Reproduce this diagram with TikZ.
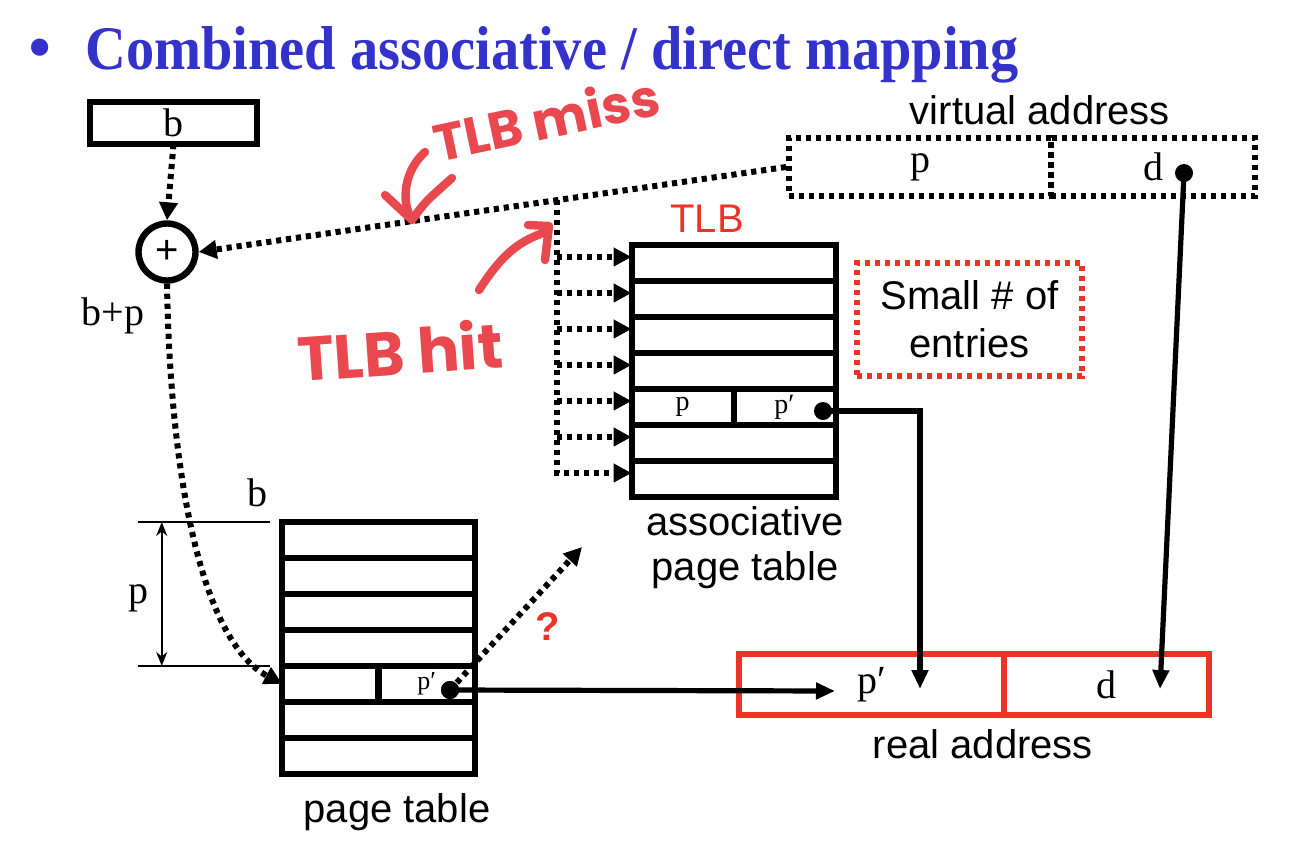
\documentclass[tikz,border=0pt]{standalone}
\usepackage{fontspec}
\setsansfont{Liberation Sans}
\newfontfamily\serf{Liberation Serif}
\newfontfamily\titlef{Liberation Serif}[FakeStretch=0.91]
\newfontfamily\hand{Poppins}
\usetikzlibrary{arrows.meta,calc}
\definecolor{ttlblue}{RGB}{51,51,204}
\definecolor{redbox}{RGB}{236,52,38}
\definecolor{handred}{RGB}{232,72,78}
\newcommand{\fsz}[1]{\fontsize{#1}{#1}\selectfont}
\begin{document}
\begin{tikzpicture}[x=0.5pt,y=-0.5pt,
  cell/.style={draw,line width=3pt,inner sep=0pt,outer sep=0pt,minimum height=18pt},
  dotln/.style={line width=3pt,dash pattern=on 2.6pt off 2.4pt},
  dotarr/.style={dotln,-{Triangle[length=9pt,width=9pt]}},
  solarr/.style={line width=2.6pt,-{Triangle[length=9.5pt,width=8pt]}},
  blob/.style={circle,fill,inner sep=0pt,minimum size=9pt},
  sf/.style={font=\sffamily\fsz{20}},
  sr/.style={font=\serf\fsz{20}},
  hnd/.style={text=handred,font=\hand\bfseries\fsz{26},inner sep=0pt},
  hstroke/.style={draw=handred,line width=4.2pt,line cap=round,line join=round},
]
\useasboundingbox (0,0) rectangle (1292,852);
\fill[white] (0,0) rectangle (1292,852);

% title
\node[anchor=base west,text=ttlblue,inner sep=0pt] (title) at (85,69) {\titlef\bfseries\fsz{31}Combined associative / direct mapping};
\node[text=ttlblue,inner sep=0pt] (bullet) at (40,55) {\serf\fsz{36}•};

% b box and adder
\node[cell,minimum width=83.5pt,minimum height=21pt,sr] (bbox) at (173.5,123) {b};
\node[circle,draw,line width=3.2pt,minimum size=28.5pt,inner sep=0pt,font=\sffamily\fsz{20}] (plus) at (167,252) {+};
\node[anchor=base,sr] (bp) at (113,325) {b+p};
\draw[dotarr] (bbox.south) -- (plus.north);

% virtual address
\node[draw,dotln,inner sep=0pt,minimum width=131pt,minimum height=29pt,sr] (vp) at (920,167) {p};
\node[draw,dotln,inner sep=0pt,minimum width=102pt,minimum height=29pt,sr] (vd) at (1153,167) {d};
\node[anchor=base,sf] (vlbl) at (1040,124) {virtual address};

% main dotted line
\coordinate (junc) at ($(vp.west)!0.39!(plus.east)$);
\draw[dotarr] (vp.west) -- (plus.east);

% TLB
\node[anchor=base,sf,text=redbox] (tlblbl) at (707,232) {TLB};
\foreach \i/\yy in {1/263,2/299,3/335,4/371,6/443,7/479}
  \node[cell,minimum width=102pt] (tl\i) at (733.5,\yy) {};
\node[cell,minimum width=51pt,font=\serf\fsz{14}] (tl5a) at (682.5,407) {p};
\node[cell,minimum width=51pt,font=\serf\fsz{14}] (tl5b) at (784.5,407) {p′};
\foreach \r in {tl1,tl2,tl3,tl4,tl5a,tl6}
  \draw[dotarr] ($(junc |- \r.west)+(0,3pt)$) -- ($(\r.west)+(0,3pt)$);
\draw[dotarr] (junc) |- ($(tl7.west)+(0,3pt)$);
\node[anchor=base,sf] (al1) at (745,535) {associative};
\node[anchor=base,sf] (al2) at (745,580) {page table};

% small # of entries
\node[draw=redbox,dotln,minimum width=112.5pt,minimum height=56.5pt,align=center,font=\sffamily\fontsize{20}{24}\selectfont] (small) at (969.5,319.5) {Small \# of\\entries};

% page table
\foreach \i/\yy in {1/540,2/576,3/612,4/648,6/720,7/756}
  \node[cell,minimum width=96.25pt] (pt\i) at (378.5,\yy) {};
\node[cell,minimum width=48.125pt] (pt5a) at (330.4,684) {};
\node[cell,minimum width=48.125pt,font=\serf\fsz{13}] (pt5b) at (426.6,684) {p′\hspace{4pt}};
\node[anchor=base,sf] (ptlbl) at (397,822) {page table};

% dimension
\coordinate (dA1) at (138,522); \coordinate (dA2) at (270,522);
\coordinate (dB1) at (138,666); \coordinate (dB2) at (270,666);
\draw[line width=1pt] (dA1) -- (dA2);
\draw[line width=1pt] (dB1) -- (dB2);
\draw[line width=1pt,{Stealth[length=7pt,width=5.5pt]}-{Stealth[length=7pt,width=5.5pt]}] ($(dA1)!0.18!(dA2)$) -- ($(dB1)!0.18!(dB2)$);
\node[anchor=base,sr] (plbl) at (138,603) {p};
\node[anchor=base,sr] (blbl) at (257,506) {b};

% b+p to page table
\draw[dotarr] (plus.south) .. controls (170,470) and (200,640) .. (pt5a.west);

% real address
\node[draw=redbox,line width=3pt,inner sep=0pt,minimum width=132.4pt,minimum height=30.25pt,sr] (rp) at (871.6,684.5) {p′};
\node[draw=redbox,line width=3pt,inner sep=0pt,minimum width=102.4pt,minimum height=30.25pt,sr] (rd) at (1106.4,684.5) {d};
\node[anchor=base,sf] (rlbl) at (983,758) {real address};

% dots and solid connectors
\node[blob] (pdot) at (450,690) {};
\node[blob] (tdot) at (823,411) {};
\node[blob] (vdot) at (1184,173) {};
\coordinate (qtip) at (582,547);
\coordinate (rtip1) at (835,691);
\coordinate (rtip2) at (920,689);
\coordinate (rtip3) at (1160,689);
\draw[dotarr] (pdot.center) -- (qtip);
\node[text=redbox,font=\sffamily\bfseries\fsz{20}] (qm) at (548,627) {?};
\draw[solarr] (pdot.center) -- (rtip1);
\draw[solarr] (tdot.center) -| (rtip2);
\draw[solarr] (vdot.center) -- (rtip3);
\node[blob] at (pdot) {};

% handwriting
\node[hnd,rotate=12] (miss) at (546,118) {TLB miss};
\node[hnd,rotate=4,font=\hand\bfseries\fsz{31}] (hit) at (400,350) {TLB hit};
\draw[hstroke] (425,152) .. controls (405,170) and (400,200) .. (412,220);
\draw[hstroke] (385,195) -- (412,220) .. controls (425,202) .. (452,178);
\draw[hstroke] (479,290) .. controls (500,258) and (515,243) .. (543,233);
\draw[hstroke] (528,225) -- (549,226) -- (545,260);
\end{tikzpicture}
\end{document}
